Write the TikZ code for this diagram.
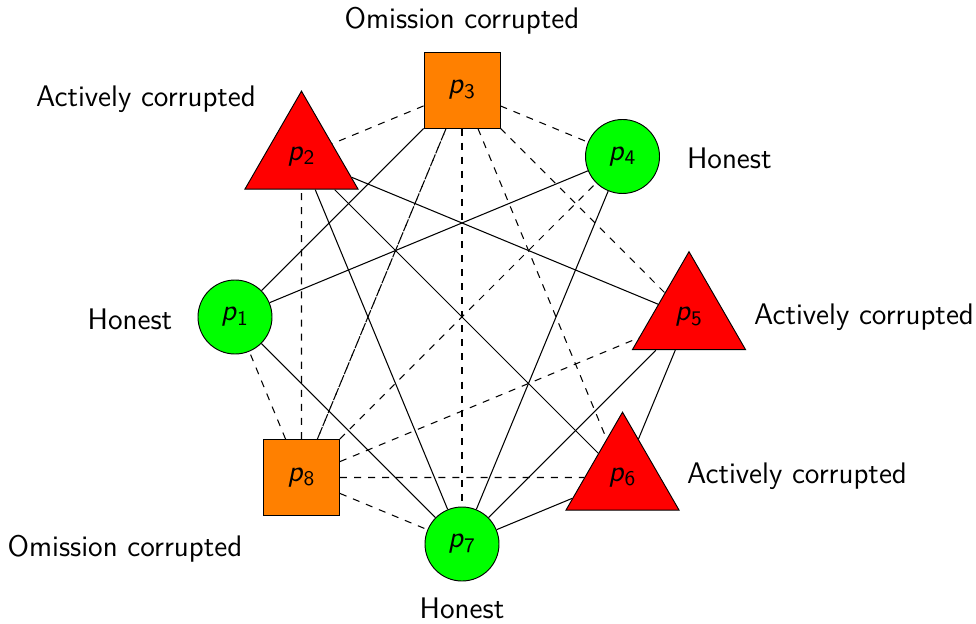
\documentclass[tikz,border=0pt]{standalone}
\usepackage{tikz}
\usetikzlibrary{shapes.geometric,positioning}
\pgfdeclarelayer{bg}
\pgfsetlayers{bg,main}
\tikzset{
  honest/.style={circle,draw,fill=green,minimum size=1.11cm,inner sep=0pt},
  active/.style={regular polygon,regular polygon sides=3,draw,fill=red,minimum size=1.96cm,inner sep=0pt},
  omission/.style={rectangle,draw,fill=orange,minimum size=1.14cm,inner sep=0pt},
  link/.style={line width=0.45pt},
  weak/.style={line width=0.45pt,dashed},
  role/.style={text centered},
}
\newcommand{\pn}[1]{\textsl{p}\textsubscript{#1}}

\begin{document}
\begin{tikzpicture}[font=\sffamily\fontsize{12.7}{15}\selectfont]
		\useasboundingbox (-6.93,-4.59) rectangle (7.71,4.755);
		% parties on a circle
		\node[honest] (p1) at (180:3.405) {\pn{1}};
		\node[active] (p2) at (135:3.405) {\pn{2}};
		\node[omission] (p3) at (90:3.405) {\pn{3}};
		\node[honest] (p4) at (45:3.405) {\pn{4}};
		\node[active] (p5) at (0:3.405) {\pn{5}};
		\node[active] (p6) at (-45:3.405) {\pn{6}};
		\node[honest] (p7) at (-90:3.405) {\pn{7}};
		\node[omission] (p8) at (-135:3.405) {\pn{8}};
		% roles
		\node[role] (r1) at (-4.98,-0.03) {Honest};
		\node[role] (r2) at (-4.74,3.27) {Actively corrupted};
		\node[role] (r3) at (0,4.44) {Omission corrupted};
		\node[role] (r4) at (4.01,2.385) {Honest};
		\node[role] (r5) at (6.03,0) {Actively corrupted};
		\node[role] (r6) at (5.025,-2.385) {Actively corrupted};
		\node[role] (r7) at (0,-4.365) {Honest};
		\node[role] (r8) at (-5.055,-3.48) {Omission corrupted};
		\begin{pgfonlayer}{bg}
		% channels
		\foreach \a/\b in {1/3,1/4,1/7,2/5,2/6,2/7,4/7,5/6,5/7,6/7}
			\draw[link] (p\a) -- (p\b);
		\foreach \a/\b in {3/2,3/4,3/5,3/6,3/7,3/8,8/1,8/2,8/3,8/4,8/5,8/6,8/7}
			\draw[weak] (p\a) -- (p\b);
		\end{pgfonlayer}
	\end{tikzpicture}
\end{document}
